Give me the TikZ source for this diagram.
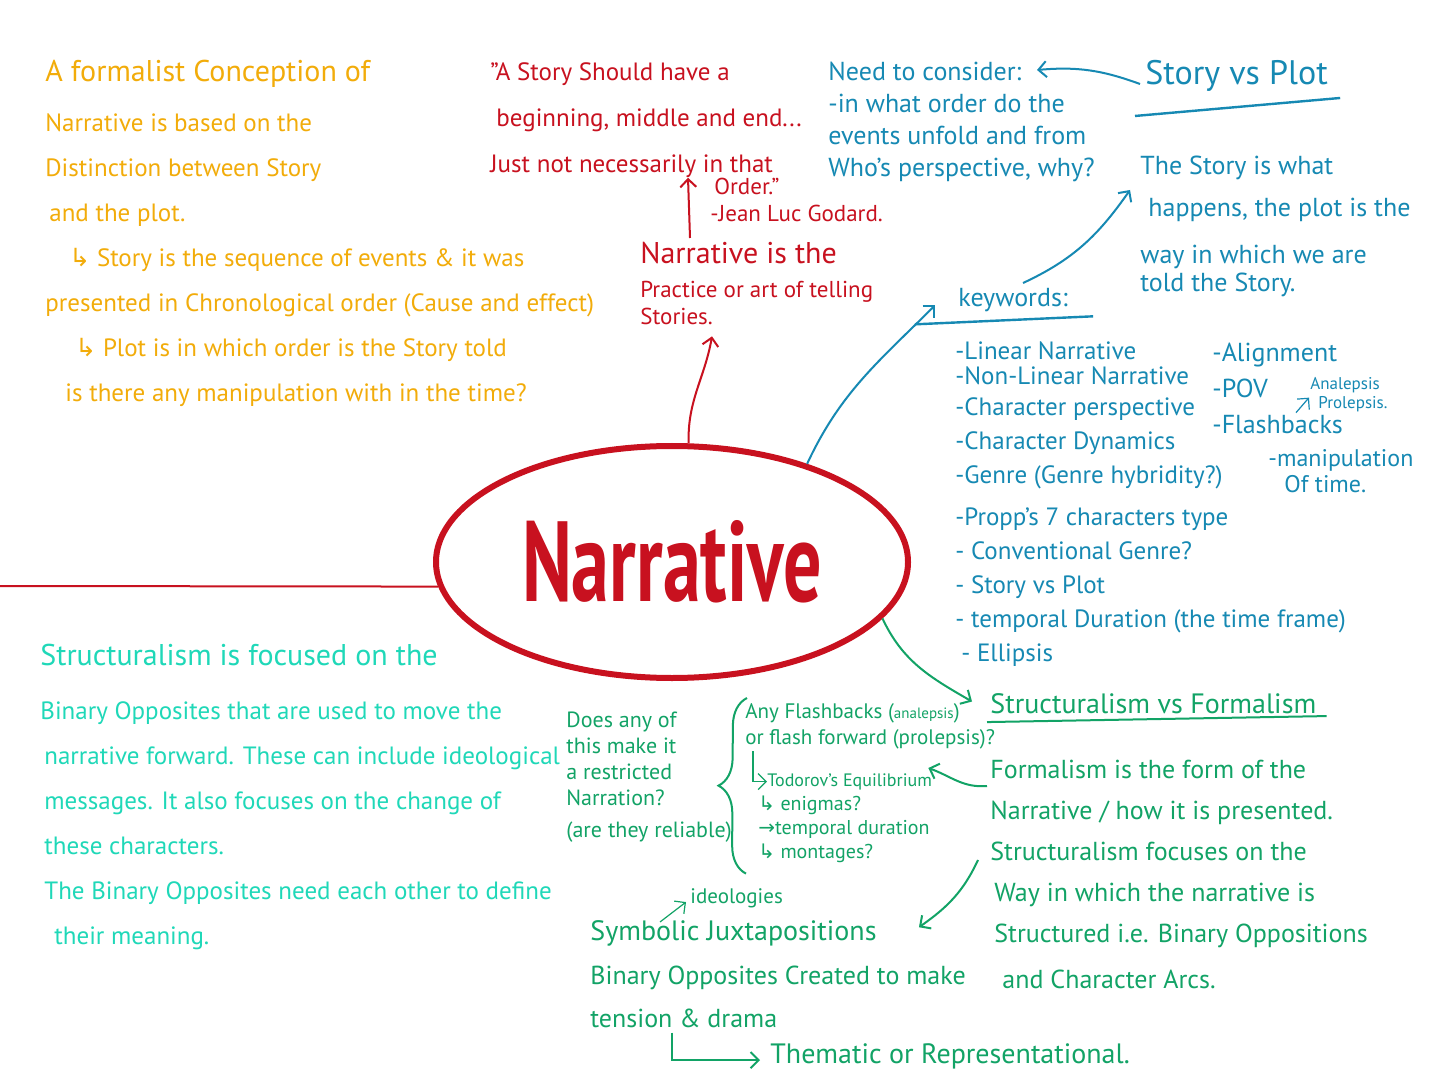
\documentclass[tikz,border=0pt]{standalone}
\usepackage{fontspec}
\setmainfont{PT Sans}
\newfontfamily\symb{DejaVu Sans}
\usetikzlibrary{shapes.geometric,calc,arrows.meta,decorations.pathreplacing}
\newcommand{\hw}[2]{\fontsize{#1}{#2}\selectfont}
\definecolor{penorange}{HTML}{F2AC0A}
\definecolor{penred}{HTML}{C8111F}
\definecolor{penblue}{HTML}{1689B3}
\definecolor{pengreen}{HTML}{12A366}
\definecolor{pencyan}{HTML}{1FD8B8}
\tikzstyle{note} = [anchor=north west, align=left, inner sep=0pt]
\tikzstyle{formal} = [note, text=penorange]
\tikzstyle{quote} = [note, text=penred]
\tikzstyle{keyw} = [note, text=penblue]
\tikzstyle{struct} = [note, text=pengreen]
\tikzstyle{focus} = [note, text=pencyan]
\tikzstyle{hub} = [ellipse, draw=penred, line width=3pt, minimum width=236pt, minimum height=116pt, inner sep=0pt, text=penred, font=\hw{38}{40}\bfseries]
\tikzstyle{redlink} = [draw=penred, line width=1pt, ->]
\tikzstyle{bluelink} = [draw=penblue, line width=1pt, ->]
\tikzstyle{greenlink} = [draw=pengreen, line width=1pt, ->]
\tikzstyle{blueline} = [draw=penblue, line width=1.2pt]
\tikzstyle{greenline} = [draw=pengreen, line width=1pt]

\begin{document}
\begin{tikzpicture}[x=0.5pt, y=-0.5pt, >={Straight Barb[length=4pt,width=8pt]}]
    \fill[white] (0,0) rectangle (1440,1080);
    \useasboundingbox (0,0) rectangle (1440,1080);

    \node[formal, font=\hw{15}{20}] (formhead) at (45,60) {A formalist Conception of};
    \node[formal, font=\hw{12.5}{22.5}] (formbody) at (45,113) {Narrative is based on the\\ Distinction between Story\\ \hspace*{2pt}and the plot.\\ \hspace*{12pt}{\symb ↳} Story is the sequence of events \& it was\\ presented in Chronological order (Cause and effect)\\ \hspace*{15pt}{\symb ↳} Plot is in which order is the Story told\\ \hspace*{10pt}is there any manipulation with in the time?};

    \node[quote, font=\hw{12.5}{23}] (quote) at (490,62) {"A Story Should have a\\ \hspace*{3pt}beginning, middle and end...\\ Just not necessarily in that};
    \node[quote, font=\hw{11.5}{13.5}] (godard) at (710,178) {\hspace*{2pt}Order."\\ -Jean Luc Godard.};
    \node[quote, font=\hw{15}{18}] (defhead) at (640,242) {Narrative is the};
    \node[quote, font=\hw{11.5}{13.5}] (defbody) at (640,281) {Practice or art of telling\\ Stories.};

    \node[hub] (nar) at (672,562) {\scalebox{1}[1.5]{Narrative}};

    \node[keyw, font=\hw{13}{16}] (consider) at (828,62) {Need to consider:\\ -in what order do the\\ events unfold and from\\ Who's perspective, why?};
    \node[keyw, font=\hw{17}{20}] (svp) at (1145,60) {Story vs Plot};
    \node[keyw, font=\hw{13}{21}] (storyis) at (1140,156) {The Story is what\\ \hspace*{4pt}happens, the plot is the\\[2.5pt] way in which we are\\[-7pt] told the Story.};
    \node[keyw, font=\hw{13}{16}] (kw) at (958,288) {keywords:};
    \node[keyw, font=\hw{12.5}{17}] (kwlist) at (955,341) {-Linear Narrative\\[-4.5pt] -Non-Linear Narrative\\[-1.5pt] -Character perspective\\ -Character Dynamics\\ -Genre (Genre hybridity?)\\[4pt] -Propp's 7 characters type\\ - Conventional Genre?\\ - Story vs Plot\\ - temporal Duration (the time frame)\\ \hspace*{3pt}- Ellipsis};
    \node[keyw, font=\hw{13}{18}] (kwright) at (1212,343) {-Alignment\\ -POV\\ -Flashbacks};
    \node[keyw, font=\hw{8.5}{9.5}] (alp) at (1310,377) {Analepsis\\ \hspace*{4pt}Prolepsis.};
    \node[keyw, font=\hw{12}{13}] (manip) at (1268,449) {-manipulation\\ \hspace*{8pt}Of time.};

    \node[struct, font=\hw{14}{16}] (svf) at (990,693) {Structuralism vs Formalism};
    \node[struct, font=\hw{13}{20.5}] (svfbody) at (990,760) {Formalism is the form of the\\ Narrative / how it is presented.\\ Structuralism focuses on the\\ \hspace*{2pt}Way in which the narrative is\\ \hspace*{2pt}Structured i.e. Binary Oppositions\\[2.5pt] \hspace*{6pt}and Character Arcs.};
    \node[struct, font=\hw{11}{13}] (restrict) at (566,712) {Does any of\\ this make it\\ a restricted\\ Narration?\\[3pt] (are they reliable)};
    \node[struct, font=\hw{10.5}{13}] (flashes) at (745,703) {Any Flashbacks ({\hw{7.5}{9}analepsis})\\ or flash forward (prolepsis)?};
    \node[struct, font=\hw{9}{10}] (todorov) at (767,773) {Todorov's Equilibrium};
    \node[struct, font=\hw{10}{12}] (devices) at (758,796) {{\symb ↳} enigmas?\\ {\symb →}temporal duration\\ {\symb ↳} montages?};
    \node[struct, font=\hw{10.5}{12}] (ideol) at (690,888) {ideologies};
    \node[struct, font=\hw{14}{18}] (symbolic) at (590,920) {Symbolic Juxtapositions};
    \node[struct, font=\hw{13}{21.5}] (binop) at (590,966) {Binary Opposites Created to make\\ tension \& drama};
    \node[struct, font=\hw{14}{16}] (thematic) at (770,1043) {Thematic or Representational.};

    \node[focus, font=\hw{15}{16}] (strhead) at (40,644) {Structuralism is focused on the};
    \node[focus, font=\hw{12.5}{22.5}] (strbody) at (40,701) {Binary Opposites that are used to move the\\ \hspace*{2pt}narrative forward. These can include ideological\\ \hspace*{2pt}messages. It also focuses on the change of\\ \hspace*{2pt}these characters.\\ \hspace*{2pt}The Binary Opposites need each other to define\\ \hspace*{7pt}their meaning.};

    \coordinate (leftedge) at (0,586);
    \draw[penred, line width=1pt] (leftedge) -- (nar.186);
    \draw[redlink] (nar.82) to[out=92,in=-100] ($(defbody.south west)+(72,11)$);
    \draw[redlink] ($(defhead.north west)+(50,-4)$) -- ($(quote.south west)+(198,0)$);

    \draw[bluelink] (nar.36) to[out=65,in=-135] ($(kw.south west)+(-23,-7)$);
    \draw[bluelink] ($(kw.north)+(10,-5)$) to[out=25,in=-125] ($(storyis.north west)+(-10,34)$);
    \draw[bluelink] ($(svp.west)+(-5,8)$) to[out=160,in=5] ($(consider.north west)+(209,8)$);
    \draw[blueline] ($(svp.south west)+(-10,24)$) -- ($(svp.south east)+(12,6)$);
    \draw[blueline] ($(kw.south west)+(-43,12)$) -- ($(kw.south east)+(25,4)$);
    \draw[bluelink, line width=0.6pt] ($(alp.west)+(-14,18)$) -- ($(alp.west)+(-1,3)$);

    \draw[greenlink] (nar.-15) to[out=-65,in=150] ($(svf.west)+(-18,-2)$);
    \draw[greenline] ($(svf.south west)+(-3,8)$) -- ($(svf.south east)+(10,2)$);
    \draw[greenlink] ($(svfbody.north west)+(-3,26)$) to[out=185,in=-20] ($(todorov.north east)+(-4,-5)$);
    \draw[greenlink] ($(svfbody.north west)+(-12,100)$) to[out=-115,in=35] ($(symbolic.east)+(42,-6)$);
    \draw[greenlink, line width=0.6pt] ($(symbolic.north west)+(70,2)$) -- ($(ideol.west)+(-4,4)$);
    \draw[greenlink, line width=0.6pt] ($(flashes.south west)+(8,2)$) |- (todorov.west);
    \draw[greenlink] ($(binop.south west)+(82,4)$) |- ($(thematic.west)+(-10,4)$);
    \draw[greenline, decorate, decoration={brace, amplitude=14pt}] ($(devices.south west)+(-12,10)$) -- ($(flashes.north west)+(2,-5)$);
\end{tikzpicture}
\end{document}
